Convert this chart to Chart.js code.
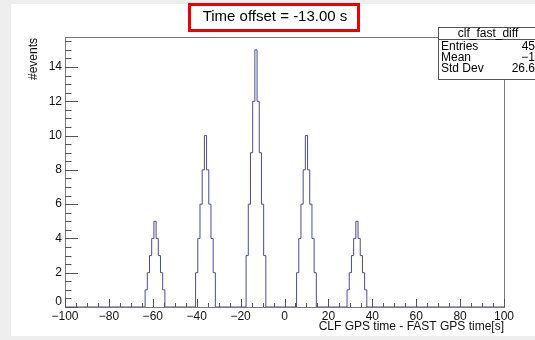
<!DOCTYPE html>
<html>
<head>
<meta charset="utf-8">
<script src="https://cdn.jsdelivr.net/npm/chart.js@4/dist/chart.umd.min.js"></script>
<style>
  html, body { margin: 0; padding: 0; background: #eeeeee; }
  #wrap { position: relative; width: 535px; height: 340px; }
</style>
</head>
<body>
<div id="wrap"><canvas id="chart" width="535" height="340"></canvas></div>
<script>
// Histogram clf_fast_diff, bin width 1 s, bins centred on integers.
const peak_centers = [-59, -36, -13, 10, 33];
const peak_counts = [
  [1, 2, 3, 4, 5, 4, 3, 2, 1],
  [2, 4, 6, 8, 10, 8, 6, 4, 2],
  [3, 6, 9, 12, 15, 12, 9, 6, 3],
  [2, 4, 6, 8, 10, 8, 6, 4, 2],
  [1, 2, 3, 4, 5, 4, 3, 2, 1],
];
const x_tick_values = [-100, -80, -60, -40, -20, 0, 20, 40, 60, 80, 100];
const y_tick_values = [0, 2, 4, 6, 8, 10, 12, 14];
const title_text = 'Time offset = -13.00 s';
const x_title = 'CLF GPS time - FAST GPS time[s]';
const y_title = '#events';
const stats_name = 'clf_fast_diff';
const stats_labels = ['Entries', 'Mean', 'Std Dev'];
const stats_values = ['45', '\u22121', '26.6'];

const X_MIN = -100, X_MAX = 100, Y_MAX = 15.75;
const FONT = '"Liberation Sans", Arial, Helvetica, sans-serif';

// Outline points at the left edge of each bin (stepped 'before').
let outline = [{ x: X_MIN - 0.5, y: 0 }];
peak_centers.forEach((center, p) => {
  const half = (peak_counts[p].length - 1) / 2;
  peak_counts[p].forEach((count, i) => {
    outline.push({ x: center - half + i - 0.5, y: count });
  });
  outline.push({ x: center + half + 0.5, y: 0 });
});
outline.push({ x: X_MAX + 0.5, y: 0 });

function minus(v) {
  return v < 0 ? '\u2212' + Math.abs(v) : String(v);
}

const root_frame = {
  id: 'root_frame',
  beforeDraw(chart) {
    const ctx = chart.ctx;
    ctx.save();
    ctx.fillStyle = '#eeeeee';
    ctx.fillRect(0, 0, chart.width, chart.height);
    ctx.fillStyle = '#ffffff';
    ctx.fillRect(11, 4, chart.width - 11, chart.height - 8);
    ctx.restore();
  },
  afterDatasetsDraw(chart) {
    const ctx = chart.ctx;
    const area = chart.chartArea;
    const xs = chart.scales.x;
    const ys = chart.scales.y;
    ctx.save();

    // frame
    ctx.strokeStyle = '#7a7a7a';
    ctx.lineWidth = 1;
    ctx.strokeRect(Math.round(area.left) + 0.5, Math.round(area.top) + 0.5,
      Math.round(area.right - area.left), Math.round(area.bottom - area.top));

    // inward ticks
    ctx.strokeStyle = '#555555';
    ctx.beginPath();
    for (let v = X_MIN; v <= X_MAX; v += 5) {
      const px = Math.round(xs.getPixelForValue(v)) + 0.5;
      const len = v % 20 === 0 ? 8 : 4;
      ctx.moveTo(px, area.bottom);
      ctx.lineTo(px, area.bottom - len);
    }
    for (let v = 0; v <= Y_MAX; v += 0.5) {
      const py = Math.round(ys.getPixelForValue(v)) + 0.5;
      const len = v % 2 === 0 ? 13 : 6.5;
      ctx.moveTo(area.left, py);
      ctx.lineTo(area.left + len, py);
    }
    ctx.stroke();

    // tick labels
    ctx.fillStyle = '#111111';
    ctx.font = '12px ' + FONT;
    ctx.textAlign = 'center';
    ctx.textBaseline = 'middle';
    x_tick_values.forEach((v) => {
      ctx.fillText(minus(v), xs.getPixelForValue(v), area.bottom + 10);
    });
    ctx.textAlign = 'right';
    y_tick_values.forEach((v) => {
      const py = ys.getPixelForValue(v) - (v === 0 ? 5 : 0);
      ctx.fillText(minus(v), area.left - 3, py);
    });

    // axis titles
    ctx.textAlign = 'right';
    ctx.textBaseline = 'middle';
    ctx.fillText(x_title, area.right, area.bottom + 20);
    ctx.save();
    ctx.translate(34, area.top + 1);
    ctx.rotate(-Math.PI / 2);
    ctx.font = '12px ' + FONT;
    ctx.textAlign = 'right';
    ctx.fillText(y_title, 0, 0);
    ctx.restore();

    // title box
    ctx.fillStyle = '#ffffff';
    ctx.fillRect(189, 4, 170, 27);
    ctx.strokeStyle = '#ee0000';
    ctx.lineWidth = 3;
    ctx.strokeRect(189.5, 4.5, 169, 26);
    ctx.fillStyle = '#000000';
    ctx.font = '15px ' + FONT;
    ctx.textAlign = 'center';
    ctx.fillText(title_text, 275, 17);

    // stats box, running past the right edge
    ctx.lineWidth = 1;
    ctx.fillStyle = '#ffffff';
    ctx.fillRect(438, 27, 110, 52);
    ctx.strokeStyle = '#555555';
    ctx.strokeRect(438.5, 27.5, 110, 52);
    ctx.beginPath();
    ctx.moveTo(438, 39.5);
    ctx.lineTo(548, 39.5);
    ctx.stroke();
    ctx.fillStyle = '#000000';
    ctx.font = '12px ' + FONT;
    ctx.textAlign = 'center';
    ctx.fillText(stats_name, 488, 33.5);
    stats_labels.forEach((label, i) => {
      const py = 46.5 + i * 11;
      ctx.textAlign = 'left';
      ctx.fillText(label, 441, py);
      ctx.textAlign = 'right';
      ctx.fillText(stats_values[i], 535, py);
    });
    ctx.restore();
  },
};

new Chart(document.getElementById('chart'), {
  type: 'line',
  data: {
    datasets: [{
      label: stats_name,
      data: outline,
      stepped: 'before',
      borderColor: '#4b4b94',
      borderWidth: 1,
      pointRadius: 0,
      fill: false,
    }],
  },
  options: {
    responsive: false,
    animation: false,
    events: [],
    layout: { padding: { left: 65, top: 37, right: 31, bottom: 33 } },
    plugins: { legend: { display: false }, tooltip: { enabled: false } },
    scales: {
      x: { type: 'linear', min: X_MIN, max: X_MAX, display: false },
      y: { type: 'linear', min: 0, max: Y_MAX, display: false },
    },
  },
  plugins: [root_frame],
});
</script>
</body>
</html>
